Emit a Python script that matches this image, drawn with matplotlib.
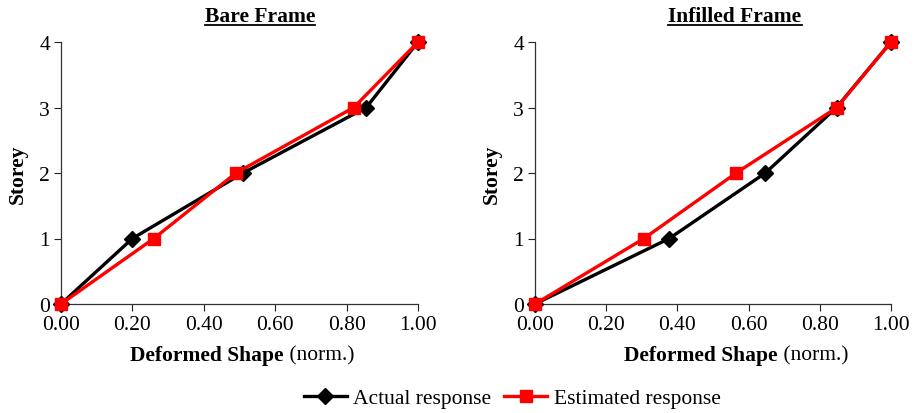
import matplotlib
matplotlib.use("Agg")
import matplotlib.pyplot as plt
from matplotlib.lines import Line2D

plt.rcParams['font.family'] = ['Liberation Serif', 'DejaVu Serif']

storeys = [0, 1, 2, 3, 4]
y_ticks = [0, 1, 2, 3, 4]
x_ticks = [0.0, 0.2, 0.4, 0.6, 0.8, 1.0]

bare_actual = [0.0, 0.20, 0.51, 0.855, 1.0]
bare_estimated = [0.0, 0.26, 0.49, 0.82, 1.0]
infill_actual = [0.0, 0.377, 0.647, 0.847, 1.0]
infill_estimated = [0.0, 0.306, 0.565, 0.848, 1.0]

titles = ["Bare Frame", "Infilled Frame"]

fig = plt.figure(figsize=(9.17, 4.14), dpi=100)
ax1 = fig.add_axes([61 / 917, 1 - 305 / 414, 357 / 917, 262 / 414])
ax2 = fig.add_axes([535 / 917, 1 - 305 / 414, 356 / 917, 262 / 414])

fs = 15.5
for ax, act, est in [(ax1, bare_actual, bare_estimated),
                     (ax2, infill_actual, infill_estimated)]:
    ax.plot(act, storeys, color="black", lw=2.4, marker="D", ms=8.5,
            label="Actual response", clip_on=False, zorder=3)
    ax.plot(est, storeys, color="#ff0000", lw=2.4, marker="s", ms=8.5,
            label="Estimated response", clip_on=False, zorder=4)
    ax.set_xlim(0, 1)
    ax.set_ylim(0, 4)
    ax.set_xticks(x_ticks)
    ax.set_xticklabels([f"{v:.2f}" for v in x_ticks], fontsize=fs)
    ax.set_yticks(y_ticks)
    ax.set_yticklabels([str(v) for v in y_ticks], fontsize=fs)
    ax.tick_params(direction="out", length=5, width=0.8, colors="#222222", labelcolor="black", pad=3)
    for s in ["top", "right"]:
        ax.spines[s].set_visible(False)
    for s in ["left", "bottom"]:
        ax.spines[s].set_color("#333333")
        ax.spines[s].set_linewidth(0.9)
    ax.set_ylabel("Storey", fontsize=fs, fontweight="bold", labelpad=8)

handles, labels = ax1.get_legend_handles_labels()
fig.legend(handles, labels, loc="center", bbox_to_anchor=(512 / 917, 1 - 399 / 414),
           ncol=2, frameon=False, fontsize=fs, handlelength=2.0, columnspacing=0.6,
           handletextpad=0.3)

# titles, centred where the original puts them
title_objs = []
for cx, title in zip((260, 735), titles):
    title_objs.append(fig.text(cx / 917, 1 - 17.5 / 414, title, fontsize=fs,
                               fontweight="bold", ha="center", va="center"))

fig.canvas.draw()
renderer = fig.canvas.get_renderer()
inv = fig.transFigure.inverted()

# x labels: bold part + normal part, centred as one string
for cx in (242, 736):
    t1 = fig.text(0, 1 - 356 / 414, "Deformed Shape", fontsize=fs, fontweight="bold",
                  ha="left", va="center")
    t2 = fig.text(0, 1 - 356 / 414, " (norm.)", fontsize=fs, ha="left", va="center")
    w1 = t1.get_window_extent(renderer).width
    w2 = t2.get_window_extent(renderer).width
    start = cx - (w1 + w2) / 2
    t1.set_x(start / 917)
    t2.set_x((start + w1) / 917)

# underline the titles
for t in title_objs:
    bb = t.get_window_extent(renderer)
    (x0, y0), (x1, y1) = inv.transform([(bb.x0, bb.y0), (bb.x1, bb.y1)])
    fig.add_artist(Line2D([x0, x1], [y0 + 0.004, y0 + 0.004], color="black", lw=1.3,
                          transform=fig.transFigure))

fig.savefig("out.png", dpi=100)
